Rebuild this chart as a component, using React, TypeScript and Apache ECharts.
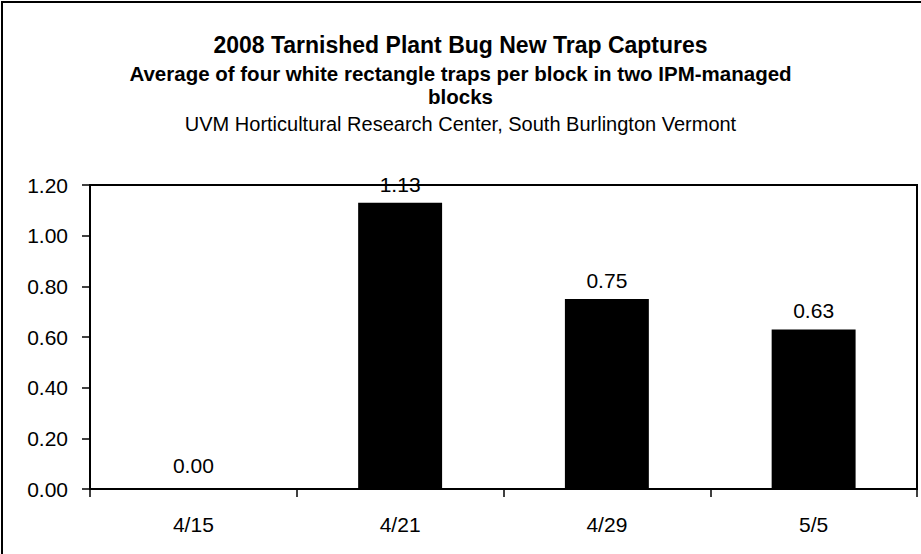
import React, { useEffect, useRef } from "react";
import * as echarts from "echarts";

const categories = ["4/15", "4/21", "4/29", "5/5"];
const captures = [0.0, 1.13, 0.75, 0.63];
const titleLines = [
  "2008 Tarnished Plant Bug New Trap Captures",
  "Average of four white rectangle traps per block in two IPM-managed",
  "blocks",
  "UVM Horticultural Research Center, South Burlington Vermont",
];

const FONT = "'Liberation Sans', Arial, sans-serif";

export default function App() {
  const ref = useRef<HTMLDivElement>(null);
  useEffect(() => {
    if (!ref.current) return;
    const chart = echarts.init(ref.current, undefined, { renderer: "svg" });
    const t = (text: string, top: number, size: number, weight: string) => ({
      text,
      left: "center",
      top,
      padding: 0,
      textStyle: { fontFamily: FONT, fontSize: size, lineHeight: size, fontWeight: weight, color: "#000" },
    });
    chart.setOption({
      animation: false,
      backgroundColor: "#ffffff",
      title: [
        t(titleLines[0], 33.5, 23, "bold"),
        t(titleLines[1], 62.75, 20.5, "bold"),
        t(titleLines[2], 85.75, 20.5, "bold"),
        t(titleLines[3], 113.5, 20, "normal"),
      ],
      graphic: [
        {
          type: "rect",
          shape: { x: 2, y: 2, width: 1000, height: 1000 },
          style: { fill: "none", stroke: "#000", lineWidth: 2 },
          silent: true,
        },
      ],
      grid: {
        left: 90,
        right: 4,
        top: 185,
        bottom: 65,
        show: true,
        borderColor: "#000",
        borderWidth: 2,
        backgroundColor: "transparent",
      },
      xAxis: {
        type: "category",
        data: categories,
        axisLine: { show: true, lineStyle: { color: "#000", width: 2 } },
        axisTick: { show: true, inside: false, length: 8, alignWithLabel: false, lineStyle: { color: "#000", width: 1.5 } },
        axisLabel: { color: "#000", fontFamily: FONT, fontSize: 21, lineHeight: 21, margin: 25 },
        splitLine: { show: false },
      },
      yAxis: {
        type: "value",
        min: 0,
        max: 1.2,
        interval: 0.2,
        axisLine: { show: true, lineStyle: { color: "#000", width: 2 } },
        axisTick: { show: true, inside: false, length: 8, lineStyle: { color: "#000", width: 1.5 } },
        axisLabel: { color: "#000", fontFamily: FONT, fontSize: 21, lineHeight: 21, margin: 22, formatter: (v: number) => v.toFixed(2) },
        splitLine: { show: false },
      },
      series: [
        {
          type: "bar",
          data: captures.map((v) => (v === 0 ? { value: v, label: { distance: 13 } } : v)),
          barWidth: "40.6%",
          itemStyle: { color: "#000" },
          label: {
            show: true,
            position: "top",
            distance: 8,
            color: "#000",
            fontFamily: FONT,
            fontSize: 21,
            lineHeight: 21,
            formatter: (p: any) => Number(p.value).toFixed(2),
          },
        },
      ],
    });
    return () => chart.dispose();
  }, []);
  return <div ref={ref} style={{ width: 921, height: 554, position: "absolute", left: 0, top: 0 }} />;
}
